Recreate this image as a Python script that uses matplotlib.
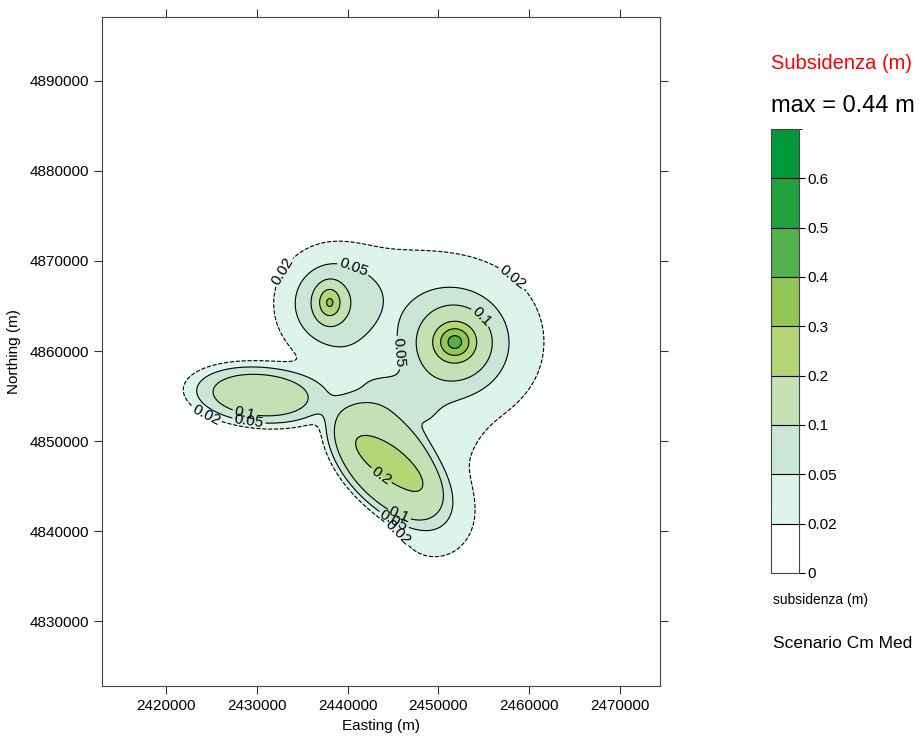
import numpy as np
import matplotlib
matplotlib.use("Agg")
import matplotlib.pyplot as plt
from matplotlib.colors import ListedColormap, BoundaryNorm

plt.rcParams['font.family'] = ['Liberation Sans', 'DejaVu Sans']

# contour classes (m) and fill colours
levels = [0, 0.02, 0.05, 0.1, 0.2, 0.3, 0.4, 0.5, 0.6, 0.7]
colors = ['#ffffff', '#dcf4ea', '#c9e6d6', '#c3e1b5', '#b4d677',
          '#93c557', '#53b04a', '#21a03d', '#00983a']
tick_labels = ['0', '0.02', '0.05', '0.1', '0.2', '0.3', '0.4', '0.5', '0.6']

# subsidence bowls (km): centre, peak (m), semi-axes, rotation (deg), shape exponent
#            NW core  NW body  E core   E body   E halo   N bridge SE core  SE body  SE-E     SE south SE east  W lobe   centre   SE north
bowl_cx  = [2438.0, 2438.2, 2451.8, 2451.7, 2452.6, 2446.0, 2444.3, 2444.3, 2447.5, 2449.5, 2452.0, 2430.3, 2440.5, 2443.6]
bowl_cy  = [4865.4, 4865.3, 4861.0, 4860.9, 4861.0, 4868.0, 4847.7, 4847.6, 4853.0, 4841.0, 4847.0, 4855.1, 4857.5, 4854.5]
bowl_amp = [0.20,   0.11,   0.275,  0.12,   0.045,  0.012,  0.12,   0.15,   0.03,   0.035,  0.01,   0.16,   0.015,  0.042]
bowl_a   = [1.3,    4.5,    1.9,    4.7,    10.0,   6.0,    4.3,    8.0,    4.0,    5.0,    4.0,    6.6,    4.5,    3.6]
bowl_b   = [1.75,   4.7,    1.8,    4.7,    10.0,   4.0,    1.6,    4.5,    4.0,    5.0,    6.0,    2.9,    3.0,    2.5]
bowl_ang = [0,      0,      0,      0,      0,      0,      -36,    -47,    0,      0,      0,      -5,     0,      0]
bowl_p   = [1,      0.8,    1,      1.4,    1,      1,      1,      3,      1,      1,      1,      1.5,    1,      1]

xt = [2420000, 2430000, 2440000, 2450000, 2460000, 2470000]
yt = [4830000, 4840000, 4850000, 4860000, 4870000, 4880000, 4890000]

xk = np.arange(2413.0, 2474.6, 0.15)
yk = np.arange(4822.8, 4897.3, 0.15)
X, Y = np.meshgrid(xk, yk)
Z = np.zeros_like(X)
for i in range(len(bowl_cx)):
    t = np.radians(bowl_ang[i])
    dx = X - bowl_cx[i]
    dy = Y - bowl_cy[i]
    u = dx*np.cos(t) + dy*np.sin(t)
    v = -dx*np.sin(t) + dy*np.cos(t)
    q = (u/bowl_a[i])**2 + (v/bowl_b[i])**2
    Z += bowl_amp[i]*np.exp(-q**bowl_p[i])
print('max', Z.max())

cmap = ListedColormap(colors)
norm = BoundaryNorm(levels, cmap.N)

fig = plt.figure(figsize=(9.23, 7.38), dpi=100)
ax = fig.add_axes([0.1105, 0.0705, 0.6046, 0.9065])

Xm, Ym = X*1000, Y*1000
ax.contourf(Xm, Ym, Z, levels=levels, cmap=cmap, norm=norm)
ls = ['--'] + ['-']*(len(levels) - 2)
cs = ax.contour(Xm, Ym, Z, levels=levels[1:], colors='k', linewidths=0.8, linestyles=ls)

lab_pos = [(2432900, 4868800), (2440500, 4868900), (2458100, 4868100),
           (2454600, 4863700), (2445400, 4859800), (2424300, 4852600),
           (2428700, 4853200), (2429200, 4852700), (2444300, 4847000),
           (2446000, 4842600), (2445300, 4841600), (2444700, 4839000)]
ax.clabel(cs, levels=[0.02, 0.05, 0.1, 0.2], fmt=lambda v: '%g' % v,
          fontsize=11, manual=lab_pos, inline=True, inline_spacing=2)

ax.set_xlim(2412950, 2474400)
ax.set_ylim(4822800, 4897100)
ax.set_xticks(xt)
ax.set_yticks(yt)
ax.set_xticklabels([str(v) for v in xt])
ax.set_yticklabels([str(v) for v in yt])
ax.tick_params(direction='out', length=6, width=0.8, labelsize=11,
               top=True, right=True, colors='#333333', labelcolor='black')
for s in ax.spines.values():
    s.set_color('#444444')
ax.set_xlabel('Easting (m)', fontsize=11, labelpad=4)
ax.set_ylabel('Northing (m)', fontsize=11, labelpad=6)

cax = fig.add_axes([0.8353, 0.2236, 0.0303, 0.6016])
cb = fig.colorbar(plt.cm.ScalarMappable(norm=norm, cmap=cmap), cax=cax,
                  boundaries=levels, spacing='uniform', drawedges=True)
cb.set_ticks(levels[:-1])
cb.set_ticklabels(tick_labels)
cb.outline.set_edgecolor('#444444')
cb.dividers.set_color('black')
cb.dividers.set_linewidth(0.8)
cax.tick_params(length=4, width=0.8, labelsize=11, direction='out', pad=2)

fig.text(0.8353, 0.914, 'Subsidenza (m)', color='red', fontsize=14.5, va='center')
fig.text(0.8353, 0.857, 'max = 0.44 m', color='black', fontsize=17, va='center')
fig.text(0.8375, 0.187, 'subsidenza (m)', fontsize=10, va='center')
fig.text(0.8375, 0.128, 'Scenario Cm Med', fontsize=12.5, va='center')

fig.savefig('out.png', dpi=100)
